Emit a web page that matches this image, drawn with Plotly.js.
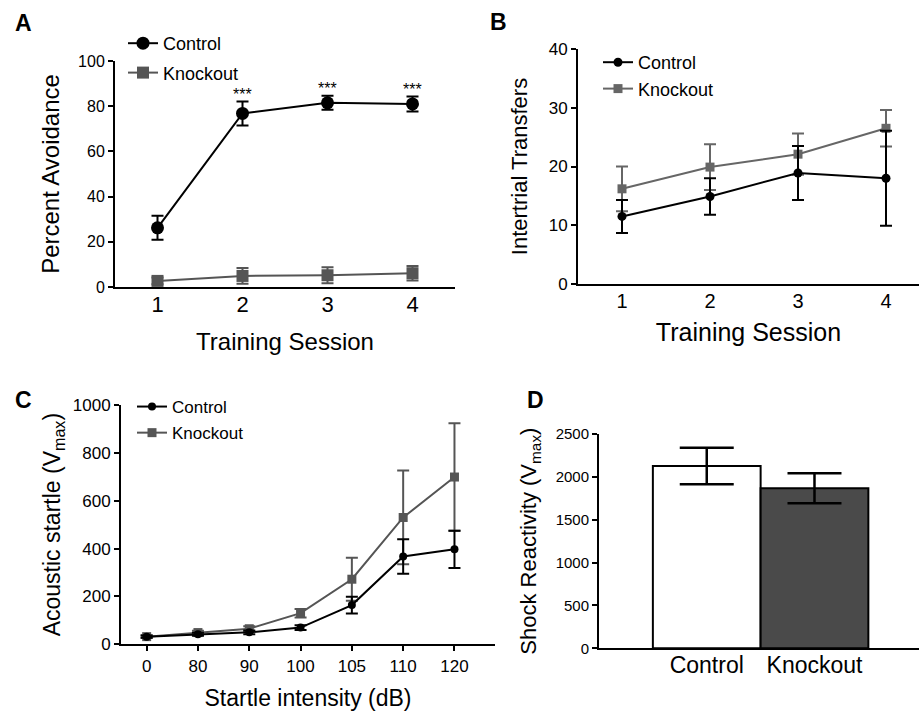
<!DOCTYPE html>
<html><head><meta charset="utf-8">
<script src="https://cdn.plot.ly/plotly-3.0.1.min.js"></script>
<style>html,body{margin:0;padding:0;background:#fff}</style>
</head><body><div id="chart" style="width:919px;height:712px"></div>
<script>
// ---- Data ----
const sessions = [1, 2, 3, 4];
const avoidControl = [26.2, 76.8, 81.5, 81.0];
const avoidControlErr = [5.3, 5.3, 3.1, 3.3];
const avoidKnockout = [2.7, 4.9, 5.2, 6.1];
const avoidKnockoutErr = [1.5, 3.5, 3.5, 3.2];
const sigSessions = [2, 3, 4];
const sigLabels = ['***', '***', '***'];

const transControl = [11.5, 14.9, 18.9, 18.0];
const transControlErr = [2.8, 3.1, 4.6, 8.1];
const transKnockout = [16.2, 19.9, 22.1, 26.5];
const transKnockoutErr = [3.8, 3.9, 3.5, 3.1];

const intensities = ['0', '80', '90', '100', '105', '110', '120'];
const startleControl = [32, 42, 50, 70, 164, 367, 397];
const startleControlErr = [5, 6, 8, 10, 35, 72, 78];
const startleKnockout = [32, 49, 65, 130, 272, 530, 699];
const startleKnockoutErr = [6, 8, 10, 18, 90, 196, 225];

const groups = ['Control', 'Knockout'];
const shockMeans = [2127, 1866];
const shockErr = [214, 175];

// ---- Layout helpers ----
const W = 919, H = 712;
const px = v => v / W;
const py = v => 1 - v / H;
const FONT = 'Liberation Sans, Arial, Helvetica, sans-serif';
const GRAY = '#555555';
const GRAY_B = '#666666';

function errBar(arr, color, width, thick) {
  return {type: 'data', array: arr, visible: true, color: color, thickness: thick || 2, width: width};
}

const traces = [
  // A
  {x: sessions, y: avoidControl, xaxis: 'x', yaxis: 'y', type: 'scatter', mode: 'lines+markers', name: 'Control',
   legend: 'legend', legendgroup: 'a1', cliponaxis: false,
   line: {color: '#000', width: 2}, marker: {symbol: 'circle', size: 13, color: '#000'},
   error_y: errBar(avoidControlErr, '#000', 6, 2)},
  {x: sessions, y: avoidKnockout, xaxis: 'x', yaxis: 'y', type: 'scatter', mode: 'lines+markers', name: 'Knockout',
   legend: 'legend', legendgroup: 'a2', cliponaxis: false,
   line: {color: GRAY, width: 2}, marker: {symbol: 'square', size: 12, color: GRAY},
   error_y: errBar(avoidKnockoutErr, GRAY, 6, 2)},
  // B
  {x: sessions, y: transKnockout, xaxis: 'x2', yaxis: 'y2', type: 'scatter', mode: 'lines+markers', name: 'Knockout',
   legend: 'legend2', legendgroup: 'b2', legendrank: 2, cliponaxis: false,
   line: {color: GRAY_B, width: 2}, marker: {symbol: 'square', size: 9, color: GRAY_B},
   error_y: errBar(transKnockoutErr, GRAY_B, 6, 2)},
  {x: sessions, y: transControl, xaxis: 'x2', yaxis: 'y2', type: 'scatter', mode: 'lines+markers', name: 'Control',
   legend: 'legend2', legendgroup: 'b1', legendrank: 1, cliponaxis: false,
   line: {color: '#000', width: 2}, marker: {symbol: 'circle', size: 9, color: '#000'},
   error_y: errBar(transControlErr, '#000', 6, 2)},
  // C
  {x: intensities, y: startleKnockout, xaxis: 'x3', yaxis: 'y3', type: 'scatter', mode: 'lines+markers', name: 'Knockout',
   legend: 'legend3', legendgroup: 'c2', legendrank: 2, cliponaxis: false,
   line: {color: GRAY, width: 2}, marker: {symbol: 'square', size: 9, color: GRAY},
   error_y: errBar(startleKnockoutErr, GRAY, 6, 2)},
  {x: intensities, y: startleControl, xaxis: 'x3', yaxis: 'y3', type: 'scatter', mode: 'lines+markers', name: 'Control',
   legend: 'legend3', legendgroup: 'c1', legendrank: 1, cliponaxis: false,
   line: {color: '#000', width: 2}, marker: {symbol: 'circle', size: 8, color: '#000'},
   error_y: errBar(startleControlErr, '#000', 6, 2)},
  // D
  {x: groups, y: shockMeans, xaxis: 'x4', yaxis: 'y4', type: 'bar', showlegend: false,
   marker: {color: ['#ffffff', '#4a4a4a'], line: {color: '#000', width: 2}},
   error_y: errBar(shockErr, '#000', 27, 2.5)}
];

const annotations = sigSessions.map((s, i) => ({
  x: s, y: avoidControl[s - 1] + avoidControlErr[s - 1] + 3.2, xref: 'x', yref: 'y',
  text: sigLabels[i], showarrow: false, yanchor: 'middle', font: {size: 16, color: '#000'}
}));
[['A', 13, 23], ['B', 488, 22], ['C', 13, 400], ['D', 525, 400]].forEach(([t, x, y]) => {
  annotations.push({text: '<b>' + t + '</b>', xref: 'paper', yref: 'paper', x: px(x), y: py(y),
    xanchor: 'left', yanchor: 'middle', showarrow: false, font: {size: 23, color: '#000'}});
});

function axis(extra) {
  return Object.assign({showgrid: false, zeroline: false, showline: true, linecolor: '#000', linewidth: 2,
    ticks: 'outside', ticklen: 5, tickwidth: 2, tickcolor: '#000', automargin: false, fixedrange: true}, extra);
}

const legendBase = {orientation: 'v', xanchor: 'left', yanchor: 'top', bgcolor: 'rgba(0,0,0,0)',
  borderwidth: 0, tracegroupgap: 3, itemclick: false, itemdoubleclick: false};

const layout = {
  width: W, height: H, margin: {l: 0, r: 0, t: 0, b: 0}, paper_bgcolor: '#fff', plot_bgcolor: 'rgba(0,0,0,0)',
  font: {family: FONT, color: '#000'},
  showlegend: true,
  // A
  xaxis: axis({domain: [px(115), px(455)], range: [0.5, 4.5], anchor: 'y', tickvals: sessions, ticks: '',
    tickfont: {size: 22}, ticklabelstandoff: -3,
    title: {text: 'Training Session', font: {size: 24}, standoff: 17}}),
  yaxis: axis({domain: [py(287), py(61)], range: [0, 100], anchor: 'x', tickvals: [0, 20, 40, 60, 80, 100],
    tickfont: {size: 16}, title: {text: 'Percent Avoidance', font: {size: 24}, standoff: 12}}),
  // B
  xaxis2: axis({domain: [px(578), 1], range: [0.5, 4.375], anchor: 'y2', tickvals: sessions, ticks: '',
    tickfont: {size: 20}, ticklabelstandoff: -2,
    title: {text: 'Training Session', font: {size: 25}, standoff: 12}}),
  yaxis2: axis({domain: [py(284), py(49)], range: [0, 40], anchor: 'x2', tickvals: [0, 10, 20, 30, 40],
    tickfont: {size: 17}, title: {text: 'Intertrial Transfers', font: {size: 22}, standoff: 15}}),
  // C
  xaxis3: axis({domain: [px(121), px(495)], type: 'category', categoryarray: intensities, range: [-0.5, 6.79],
    anchor: 'y3', tickfont: {size: 17},
    title: {text: 'Startle intensity (dB)', font: {size: 23}, standoff: 15}}),
  yaxis3: axis({domain: [py(644.3), py(405)], range: [0, 1000], anchor: 'x3', tickvals: [0, 200, 400, 600, 800, 1000],
    tickfont: {size: 17}, title: {text: 'Acoustic startle (V<sub>max</sub>)', font: {size: 23}, standoff: 6}}),
  // D
  xaxis4: axis({domain: [px(599), 1], type: 'category', categoryarray: groups, range: [-1.0, 1.97],
    anchor: 'y4', ticks: '', tickfont: {size: 23}, ticklabelstandoff: -5}),
  yaxis4: axis({domain: [py(648.3), py(434)], range: [0, 2500], anchor: 'x4', tickvals: [0, 500, 1000, 1500, 2000, 2500],
    tickfont: {size: 15}, title: {text: 'Shock Reactivity (V<sub>max</sub>)', font: {size: 22}, standoff: 13}}),
  bargap: 0,
  legend: Object.assign({}, legendBase, {x: px(123), y: py(25), font: {size: 18}}),
  legend2: Object.assign({}, legendBase, {x: px(598), y: py(44), font: {size: 18}, tracegroupgap: 0}),
  legend3: Object.assign({}, legendBase, {x: px(132), y: py(389), font: {size: 17}, tracegroupgap: 1}),
  annotations: annotations
};

Plotly.newPlot('chart', traces, layout, {displayModeBar: false, staticPlot: true});
</script>
</body></html>
